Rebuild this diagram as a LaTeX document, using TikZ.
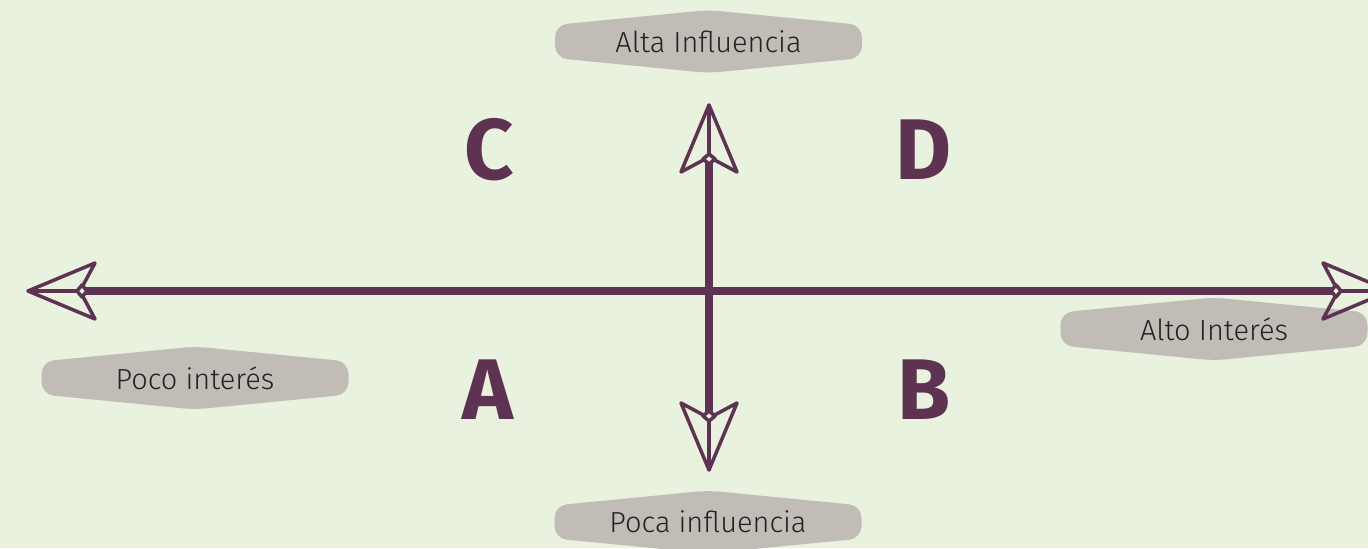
\documentclass[tikz,border=0pt]{standalone}
\usepackage{fontspec}
\setmainfont{Fira Sans}[UprightFont={* Light}, BoldFont={* Bold}]
\usepackage{tikz}
\usetikzlibrary{
    positioning,
    calc,
}
\definecolor{bgcol}{HTML}{E8F2DE}
\definecolor{axiscol}{HTML}{5E3352}
\definecolor{tagcol}{HTML}{C1BCB6}
\definecolor{txtcol}{HTML}{222222}
\tikzset{
    % Axis styles
    axis/.style={draw=axiscol, line width=4.8pt},
    head line/.style={draw=axiscol, line width=2pt, line join=round},
    % Label styles
    tag/.style={minimum width=6.14cm, minimum height=1.26cm, inner sep=0pt,
                font=\fontsize{16.5}{20}\selectfont, text=txtcol,
                path picture={
                    \fill[tagcol, rounded corners=7pt]
                        ($(path picture bounding box.north west)+(0,-0.3)$)
                        -- (path picture bounding box.north)
                        -- ($(path picture bounding box.north east)+(0,-0.3)$)
                        -- ($(path picture bounding box.south east)+(0,0.3)$)
                        -- (path picture bounding box.south)
                        -- ($(path picture bounding box.south west)+(0,0.3)$)
                        -- cycle;
                }},
    quadrant/.style={font=\fontsize{49}{52}\selectfont\bfseries, text=axiscol, inner sep=0pt},
    % Arrowhead, tip at the origin, pointing along +x
    spearhead/.pic={
        \draw[head line] (0,0) -- (-1.34,0.56) -- (-1.04,0) -- (-1.34,-0.56) -- cycle;
        \draw[head line] (0,0) -- (-0.98,0);
        \draw[head line, fill=bgcol] (-0.98,0) -- (-1.08,0.12) -- (-1.18,0) -- (-1.08,-0.12) -- cycle;
    },
}

\begin{document}
\begin{tikzpicture}
    \fill[bgcol] (0,0) rectangle (27.36,10.96);
    \useasboundingbox (0,0) rectangle (27.36,10.96);
    \clip (0,0) rectangle (27.36,10.96);

    % Labels
    \node[tag] (highinf) at (14.17, 10.13) {Alta Influencia};
    \node[tag] (lowinf) at (14.16, 0.52) {Poca influencia};
    \node[tag] (highint) at (24.28, 4.38) {Alto Interés};
    \node[tag] (lowint) at (3.90, 3.40) {Poco interés};

    % Quadrants
    \node[quadrant] (qc) at (9.78, 7.96) {C};
    \node[quadrant] (qd) at (18.48, 7.96) {D};
    \node[quadrant] (qa) at (9.76, 3.16) {A};
    \node[quadrant] (qb) at (18.48, 3.16) {B};

    % Axes
    \coordinate (west) at (0.56, 5.14);
    \coordinate (east) at (27.80, 5.14);
    \coordinate (north) at (14.18, 8.86);
    \coordinate (south) at (14.18, 1.56);
    \draw[axis] ($(west)+(1.16,0)$) -- ($(east)+(-1.16,0)$);
    \draw[axis, line width=4.2pt] ($(north)+(0,-1.16)$) -- ($(south)+(0,1.16)$);
    \pic[rotate=180] at (west) {spearhead};
    \pic at (east) {spearhead};
    \pic[rotate=90] at (north) {spearhead};
    \pic[rotate=-90] at (south) {spearhead};
\end{tikzpicture}
\end{document}
